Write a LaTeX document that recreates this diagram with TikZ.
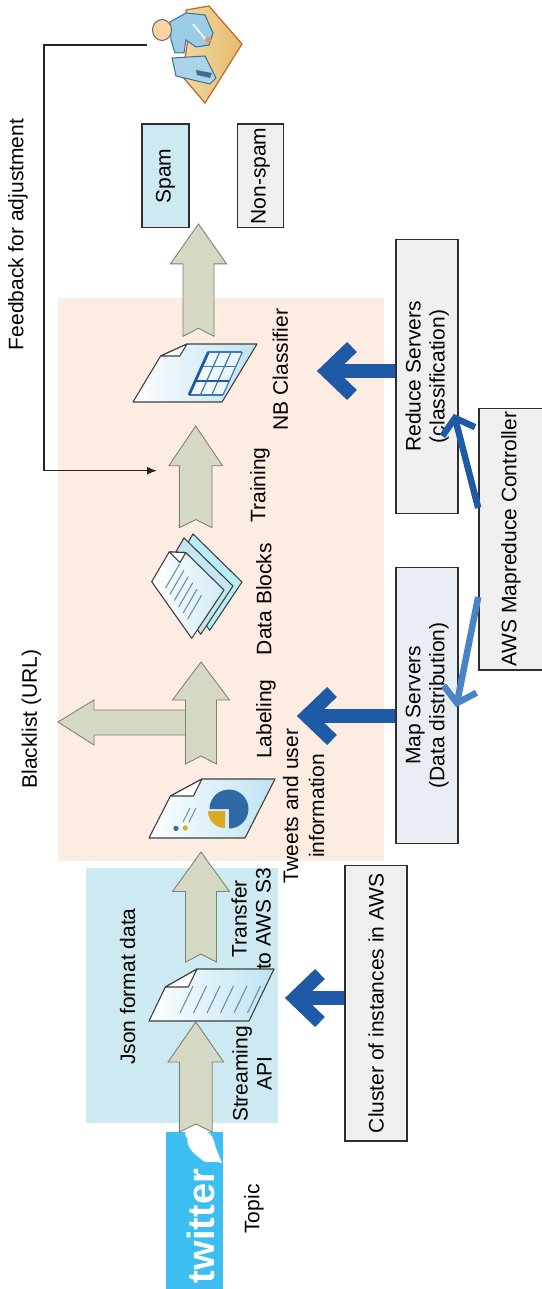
\documentclass[tikz,border=0pt]{standalone}
\usepackage{fontspec}
\setmainfont{Liberation Sans}
\usetikzlibrary{calc,arrows.meta}

\definecolor{peach}{HTML}{FDECE1}
\definecolor{paleblue}{HTML}{CDE9F1}
\definecolor{sage}{HTML}{D5D9C3}
\definecolor{sageline}{HTML}{7E8275}
\definecolor{awsblue}{HTML}{1F5AA6}
\definecolor{awslight}{HTML}{4A84C6}
\definecolor{boxgray}{HTML}{F0F0F0}
\definecolor{mapfill}{HTML}{E9EEF5}
\definecolor{boxline}{HTML}{2E2E2E}
\definecolor{twblue}{HTML}{3CBFF0}
\definecolor{docline}{HTML}{6F8FAE}
\definecolor{docblue}{HTML}{BDE3F2}
\definecolor{pieblue}{HTML}{2F68A6}
\definecolor{pieyellow}{HTML}{D9A928}
\definecolor{gridblue}{HTML}{3F78B5}
\definecolor{deskfill}{HTML}{E6BC6A}
\definecolor{deskline}{HTML}{C0622A}
\definecolor{bodyblue}{HTML}{9CCDE6}
\definecolor{bodyline}{HTML}{3D6F95}

\tikzset{
  lbl/.style={rotate=90, inner sep=0pt, font=\fontsize{21}{24}\selectfont, align=center},
  srvbox/.style={rotate=90, draw=boxline, line width=1.6pt, fill=boxgray, inner sep=0pt,
                 font=\fontsize{21}{24}\selectfont, align=center},
  flowarrow/.style={fill=sage, draw=sageline, line width=0.9pt, line join=miter},
  thickblue/.style={draw=awsblue, line width=14pt, line cap=butt, line join=miter},
  thinblue/.style={line width=6.5pt, line cap=butt, line join=miter},
  docedge/.style={draw=black!75, line width=1.1pt, line join=round},
  fbline/.style={draw=black!85, line width=1.4pt, -{Latex[length=10pt,width=8pt]}},
}

% upward block arrow: centre x, tip y, head base y, tail y, shaft half width, head half width
\newcommand{\flowup}[6]{%
  \draw[flowarrow] ({#1-#5},#4) -- ({#1-#5},#3) -- ({#1-#6},#3) -- (#1,#2)
    -- ({#1+#6},#3) -- ({#1+#5},#3) -- ({#1+#5},#4) -- (#1,{#4-8}) -- cycle;}

\begin{document}
\begin{tikzpicture}[x=1pt,y=-1pt]
\useasboundingbox (0,0) rectangle (541,1289);

% background areas
\fill[peach] (58,298.3) rectangle (383.7,860.5);
\fill[paleblue] (85.6,868.4) rectangle (277.8,1122.5);

% twitter logo
\fill[twblue] (165.6,1132) rectangle (222.6,1295);
\node[rotate=90, anchor=base, inner sep=0pt, text=white,
      font=\fontsize{38}{38}\selectfont\bfseries] (twitter) at (214,1226) {twitter};
\fill[white] (188,1136) .. controls (194,1127) and (211,1128) .. (214,1141)
  .. controls (216,1150) and (219,1155) .. (222,1163)
  .. controls (213,1160) and (206,1165) .. (201,1159)
  .. controls (193,1153) and (185,1146) .. cycle;
\fill[white] (190,1134) circle[radius=5];

% block arrows of the pipeline
\flowup{195.8}{1022}{1062}{1132}{16.4}{27.8}
\flowup{201}{852}{891.5}{962}{15.5}{28.5}
\draw[flowarrow] (200,710) -- (94,710) -- (94,700) -- (58,722) -- (94,745) -- (94,735) -- (200,735) -- cycle;
\flowup{201}{662}{700}{764}{15.5}{28.5}
\flowup{195.7}{426}{465.7}{527.6}{16.3}{26.8}
\flowup{198.5}{224}{263.8}{336.3}{15.5}{28}

% Json document
\coordinate (json) at (210,995);
\draw[docedge, left color=white, right color=docblue]
  (149,1021) -- (165.3,987) -- (197,969) -- (274,969) -- (249,1021) -- cycle;
\draw[docedge, fill=white] (165.3,987) -- (197,969) -- (188.3,987) -- cycle;
\foreach \i in {0,...,5}
  \draw[docline, line width=1.1pt] ({180+\i*13.5},1013) -- ++(13,-27);

% tweets document with pie chart
\coordinate (tweets) at (212,808);
\draw[docedge, left color=white, right color=docblue]
  (149,838) -- (170.4,796) -- (202,779) -- (275,779) -- (245,838) -- cycle;
\draw[docedge, fill=white] (170.4,796) -- (202,779) -- (193.4,796) -- cycle;
\fill[pieblue] (229,809) -- ++(180:19.5) arc[start angle=180, end angle=450, radius=19.5] -- cycle;
\fill[pieyellow] (225,811) -- ++(90:17) arc[start angle=90, end angle=180, radius=17] -- cycle;
\draw[docline, line width=1.1pt] (183,822) -- (190,808) (189,822) -- (196,808);
\fill[pieblue] (176,828.4) circle[radius=2.6];
\fill[pieyellow] (185.3,828) circle[radius=2.6];

% data blocks (stacked pages)
\coordinate (blocks) at (195,588);
\draw[docedge, fill=docblue!80!cyan!70!white] (169.7,573.7) -- (193,534) -- (242,582) -- (209.7,630.3) -- cycle;
\draw[docedge, fill=docblue!90!white] (160.7,577.7) -- (184,538) -- (233,586) -- (200.7,634.3) -- cycle;
\draw[docedge, left color=white, right color=docblue!70!white]
  (151.7,581.7) -- (169.2,551.9) -- (185.8,552.6) -- (224,590) -- (191.7,638.3) -- cycle;
\draw[docedge, fill=white] (169.2,551.9) -- (185.8,552.6) -- (180,562.5) -- cycle;
\foreach \t in {0.22,0.33,0.44,0.55,0.66,0.77}
  \draw[docline, line width=1.1pt] ($(151.7,581.7)!\t!(191.7,638.3)+(5,-6)$) -- ++(14,-24);

% NB classifier document with table grid
\coordinate (nb) at (195,373);
\draw[docedge, left color=white, right color=docblue]
  (133,402) -- (160.6,356) -- (187,344) -- (257,344) -- (222,402) -- cycle;
\draw[docedge, fill=white] (160.6,356) -- (187,344) -- (179.8,356) -- cycle;
\fill[white, opacity=0.6] (189,395) -- (208.4,352) -- (242.4,352) -- (223,395) -- cycle;
\foreach \k in {0,1,2,3}
  \draw[gridblue, line width=1.2pt] ({189+0.45*43*\k/3},{395-43*\k/3}) -- ++(34,0);
\foreach \j in {1,2,3}
  \draw[gridblue, line width=1.2pt] ({189+\j*34/3},395) -- ++(19.4,-43);
\draw[awsblue, line width=2.8pt] (189,395) -- (208.4,352);
\draw[awsblue, line width=2.2pt] ({189+0.45*43/3},{395-43/3}) -- ++(34,0);

% reviewer at desk
\coordinate (person) at (147,45);
\draw[draw=deskline, line width=1.2pt, left color=deskfill!60!white, right color=deskfill]
  (186,10) -- (209,6) -- (242,44) -- (205,103) -- (182,76) -- (188,40) -- cycle;
\draw[draw=bodyline, line width=1pt, fill=bodyblue]
  (170,22) -- (186,13) -- (205,15) -- (213,33) -- (209,45) -- (196,47)
  -- (186,40) -- (184,53) -- (175,53) -- (171,40) -- cycle;
\draw[white, line width=1.5pt] (193,24) -- (206,40);
\fill[deskfill!80!red] (208,40) circle[radius=3];
\draw[draw=bodyline, line width=1pt, fill=bodyblue!85!white]
  (172,58) -- (205,56) -- (216,78) -- (210,84) -- (176,76) -- cycle;
\fill[bodyline] (196,70) -- (212,73) -- (210,78) -- (197,75) -- cycle;
\draw[draw=black!60, line width=1pt, fill=orange!35!white] (162,30) ellipse[x radius=9.5, y radius=10.5];

% feedback loop
\coordinate (fbend) at (157,470.7);
\draw[fbline] (person) -- (44,45) |- (fbend);

% output and server boxes
\node[srvbox, fill=paleblue, minimum width=103.4pt, minimum height=47pt] (spam) at (165.5,176) {Spam};
\node[srvbox, minimum width=103.4pt, minimum height=46.2pt] (nonspam) at (260.5,176) {Non-spam};
\node[srvbox, minimum width=273.6pt, minimum height=62.3pt] (reduce) at (427.1,376.5) {Reduce Servers\\(classification)};
\node[srvbox, fill=mapfill, minimum width=276pt, minimum height=62.3pt] (map) at (427.1,705.3) {Map Servers\\(Data distribution)};
\node[srvbox, minimum width=261.7pt, minimum height=64pt] (ctrl) at (511,539.2) {AWS Mapreduce Controller};
\node[srvbox, minimum width=275.4pt, minimum height=62pt] (cluster) at (376,1003.3) {Cluster of instances in AWS};

% blue arrows from the servers
\coordinate (jsontip) at (295,998);
\draw[thickblue] (cluster.north |- jsontip) -- (jsontip);
\draw[thickblue] ($(jsontip)+(25,-24)$) -- (jsontip) -- ($(jsontip)+(25,24)$);

\coordinate (labeltip) at (307,716);
\draw[thickblue] (map.north |- labeltip) -- (labeltip);
\draw[thickblue] ($(labeltip)+(25,-24)$) -- (labeltip) -- ($(labeltip)+(25,24)$);

\coordinate (nbtip) at (327,371);
\draw[thickblue] (reduce.north |- nbtip) -- (nbtip);
\draw[thickblue] ($(nbtip)+(25,-24)$) -- (nbtip) -- ($(nbtip)+(25,24)$);

\coordinate (redtip) at (455,418);
\draw[thinblue, draw=awsblue] (ctrl.north |- 0,508) -- (redtip);
\draw[thinblue, draw=awsblue] ($(redtip)+(-12.6,18.1)$) -- (redtip) -- ($(redtip)+(20,9.2)$);

\coordinate (maptip) at (457,703);
\draw[thinblue, draw=awslight] (ctrl.north |- 0,597) -- (maptip);
\draw[thinblue, draw=awslight] ($(maptip)+(19.5,-10.2)$) -- (maptip) -- ($(maptip)+(-13.4,-17.4)$);

% labels
\node[lbl] (feedback) at (18,234.5) {Feedback for adjustment};
\node[lbl] (blacklist) at (31.5,719) {Blacklist (URL)};
\node[lbl] (jsonlbl) at (127.7,986.5) {Json format data};
\node[lbl] (topic) at (254,1209) {Topic};
\node[lbl] (streaming) at (252,1074) {Streaming\\API};
\node[lbl] (transfer) at (251,919) {Transfer\\to AWS S3};
\node[lbl, font=\fontsize{21}{26}\selectfont] (tweetslbl) at (303.7,806) {Tweets and user\\information};
\node[lbl] (labeling) at (266,719) {Labeling};
\node[lbl] (blockslbl) at (263.8,599) {Data Blocks};
\node[lbl] (training) at (260,485) {Training};
\node[lbl] (nblbl) at (280.3,369.5) {NB Classifier};
\end{tikzpicture}
\end{document}
